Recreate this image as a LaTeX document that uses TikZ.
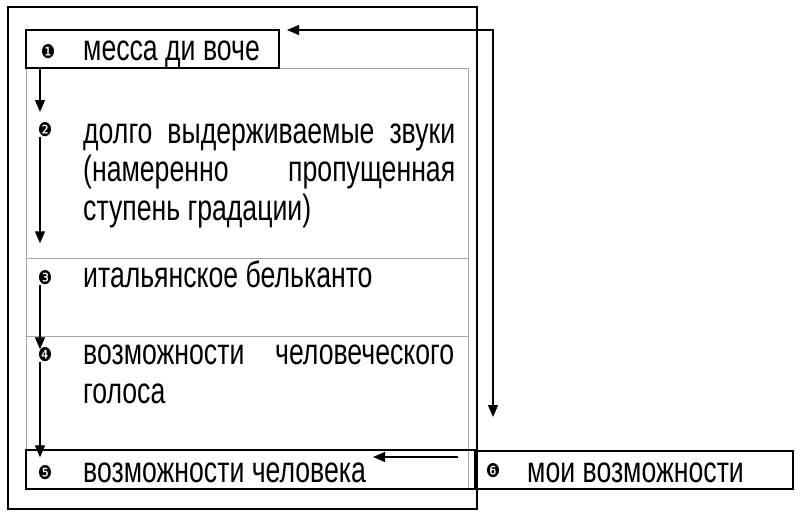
\documentclass[tikz,border=0pt]{standalone}
\usepackage{fontspec}
\setmainfont{Liberation Sans}[FakeStretch=0.73]
\newfontfamily\numfont{DejaVu Sans}[FakeStretch=0.85]
\usetikzlibrary{arrows.meta}

\begin{document}
\begin{tikzpicture}[x=1pt,y=-1pt,
		txt/.style={anchor=base west,inner sep=0pt,font=\fontsize{36.5}{38.5}\selectfont},
		num/.style={inner sep=0pt,font=\numfont\fontsize{19}{19}\selectfont},
		frame/.style={draw,line width=1.5pt,inner sep=0pt,outer sep=0pt,anchor=north west},
		gridline/.style={gray!70,line width=0.8pt},
		arr/.style={line width=1.2pt,-{Triangle[width=10pt,length=12pt]}},
		arrs/.style={line width=1.2pt,{Triangle[width=10pt,length=12pt]}-{Triangle[width=10pt,length=12pt]}}]
			\useasboundingbox (0,0) rectangle (800,520);
			\draw[line width=1.5pt] (8,7) rectangle (477,509);
			
			\draw[gridline] (26,68) -- (26,450);
			\draw[gridline] (279,68) -- (468,68) -- (468,490);
			\draw[gridline] (26,258) -- (468,258);
			\draw[gridline] (26,336) -- (468,336);
			
			\node[frame,minimum width=253pt,minimum height=38pt] (mdv) at (26,30) {};
			\node[frame,minimum width=449pt,minimum height=39pt] (vch) at (26,450) {};
			\node[frame,minimum width=318pt,minimum height=38pt] (mv) at (475,451) {};
			
			\node[num] (n1) at (48,52) {❶};
			\node[num] (n2) at (45,130) {❷};
			\node[num] (n3) at (45,278) {❸};
			\node[num] (n4) at (45,355) {❹};
			\node[num] (n5) at (45,473) {❺};
			\node[num] (n6) at (493,471) {❻};
			
			\node[txt] (t1) at (83,60) {месса ди воче};
			\node[txt,align=left] (t2) at (83,220) {\makebox[372pt][s]{долго выдерживаемые звуки}\\\makebox[372pt][s]{(намеренно пропущенная}\\ступень градации)};
			\node[txt] (t3) at (83,287) {итальянское бельканто};
			\node[txt,align=left] (t4) at (83,403) {\makebox[371pt][s]{возможности человеческого}\\голоса};
			\node[txt] (t5) at (83,482) {возможности человека};
			\node[txt] (t6) at (527,482) {мои возможности};
			
			\draw[arr] ([xshift=14pt]mdv.south west) -- ++(0,44);
			\draw[arr] ([xshift=-5pt]n2.south) -- ++(0,106);
			\draw[arr] ([xshift=-5pt]n3.south) -- ++(0,64);
			\draw[arr] ([xshift=-5pt]n4.south) -- ++(0,95);
			\draw[arrs] ([xshift=8pt]mdv.north east) -- (n6 |- mdv.north east) -- ([yshift=34pt]n6 |- mv.north);
			\draw[arr] ([shift={(-17,6)}]mv.north west) -- ++(-85,0);
		\end{tikzpicture}
\end{document}
